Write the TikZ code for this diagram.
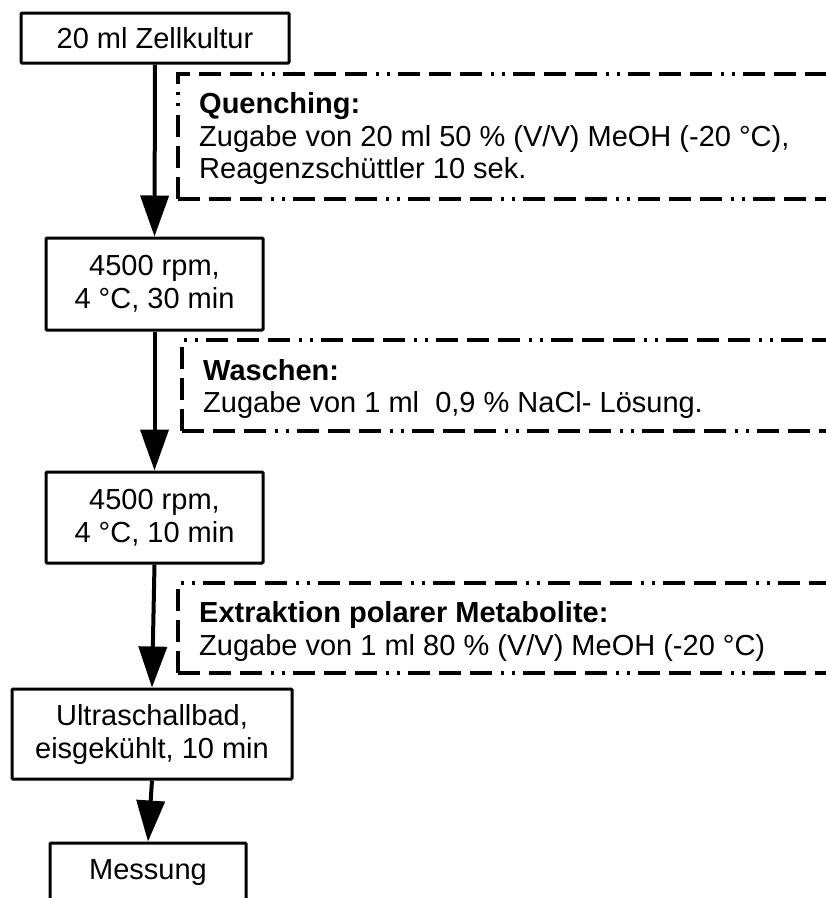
\documentclass[tikz,border=0pt]{standalone}
\usepackage{fontspec}
\setmainfont{Liberation Sans}
\usetikzlibrary{arrows.meta}
\tikzset{
  procbox/.style={draw, line width=3pt, rounded corners=1pt, inner sep=0pt, align=center,
    font=\fontsize{29}{33}\selectfont},
  flow/.style={line width=4pt, -{Triangle[length=41pt,width=28pt]}},
  notebox/.style={line width=3.4pt, dash pattern=on 22pt off 9pt on 22pt off 9pt on 22pt off 9pt on 3pt off 8pt on 3pt off 8pt},
  notetext/.style={anchor=base west, inner sep=0pt, font=\fontsize{29}{33}\selectfont},
}
\begin{document}
\begin{tikzpicture}[x=1pt,y=-1pt]
\useasboundingbox (0,0) rectangle (826,898);
\clip (0,0) rectangle (826,898);

% process boxes
\node[procbox, minimum width=268pt, minimum height=50pt] (b1) at (155,38) {20 ml Zellkultur};
\node[procbox, minimum width=217pt, minimum height=92pt] (b2) at (154.5,284) {4500 rpm,\\4 °C, 30 min};
\node[procbox, minimum width=217pt, minimum height=91pt] (b3) at (154.5,517.5) {4500 rpm,\\4 °C, 10 min};
\node[procbox, minimum width=280pt, minimum height=90pt] (b4) at (152,734) {Ultraschallbad,\\eisgekühlt, 10 min};
\node[procbox, minimum width=196pt, minimum height=60pt] (b5) at (148,873) {Messung};

% connectors
\draw[flow] (b1.south) -- (b2.north);
\draw[flow] (b2.south) -- (b3.north);
\draw[flow] (b3.south) -- (b4.north);
\draw[flow] (b4.south) -- (b5.north);

% note frames (open to the right)
\draw[notebox] (178,199) -- (178,74) -- (840,74);
\draw[notebox] (178,199) -- (840,199);
\draw[notebox] (182,431) -- (182,340) -- (840,340);
\draw[notebox] (182,431) -- (840,431);
\draw[notebox] (178,673) -- (178,583) -- (840,583);
\draw[notebox] (178,673) -- (840,673);

% note texts
\node[notetext] (q1) at (199,113) {\bfseries Quenching:};
\node[notetext] (q2) at (199,146) {Zugabe von 20 ml 50 \% (V/V) MeOH (-20 °C),};
\node[notetext] (q3) at (199,178) {Reagenzschüttler 10 sek.};

\node[notetext] (w1) at (203,380) {\bfseries Waschen:};
\node[notetext] (w2) at (203,412) {Zugabe von 1 ml\ \ 0,9 \% NaCl- Lösung.};

\node[notetext] (e1) at (199,622) {\bfseries Extraktion polarer Metabolite:};
\node[notetext] (e2) at (199,655) {Zugabe von 1 ml 80 \% (V/V) MeOH (-20 °C)};
\end{tikzpicture}
\end{document}
